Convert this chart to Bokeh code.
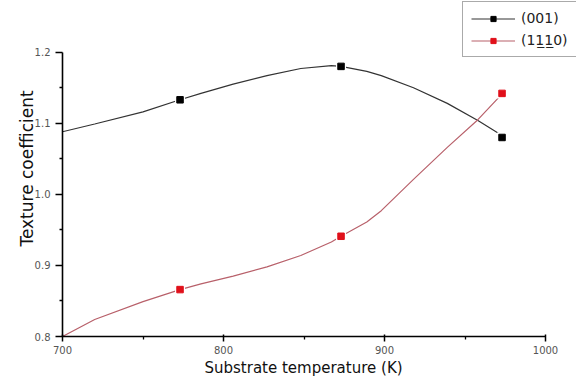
from bokeh.plotting import figure
from bokeh.models import (Range1d, FixedTicker, NumeralTickFormatter, Legend,
                          LegendItem, ColumnDataSource, Title)
from bokeh.embed import file_html
from bokeh.resources import INLINE

# Measured texture coefficients at the three substrate temperatures
temp_K = [773, 873, 973]
tc_001 = [1.133, 1.180, 1.080]
tc_1110 = [0.866, 0.941, 1.142]

# Smoothed fit curves, sampled along the temperature axis
curve_temp = [700, 720, 750, 773, 786, 806, 827, 848, 867, 873,
              889, 898, 918, 939, 958, 970, 973]
curve_001 = [1.088, 1.099, 1.116, 1.133, 1.142, 1.155, 1.167, 1.177, 1.181, 1.180,
             1.173, 1.167, 1.150, 1.128, 1.104, 1.087, 1.080]
curve_1110 = [0.800, 0.824, 0.849, 0.866, 0.874, 0.885, 0.898, 0.914, 0.933, 0.941,
              0.961, 0.977, 1.021, 1.066, 1.105, 1.134, 1.142]

x_ticks = [700, 800, 900, 1000]
x_minor = [750, 850, 950]
y_ticks = [0.8, 0.9, 1.0, 1.1, 1.2]
y_minor = [0.85, 0.95, 1.05, 1.15]

label_001 = "(001)"
label_1110 = "(1" + "1\u0332" + "1\u0332" + "0)"

FONT = "DejaVu Sans"

pts = ColumnDataSource(dict(t=temp_K, a=tc_001, b=tc_1110))
fit = ColumnDataSource(dict(t=curve_temp, a=curve_001, b=curve_1110))

# the plotting frame reaches the right and top edges so the legend box fits;
# the axes themselves stop at 1000 K and 1.2
p = figure(width=576, height=378, output_backend="svg", toolbar_location=None,
           x_range=Range1d(700, 1019.25), y_range=Range1d(0.8, 1.2727),
           min_border_left=62, min_border_bottom=42, min_border_top=0,
           min_border_right=0)
p.outline_line_color = None
p.xgrid.visible = False
p.ygrid.visible = False
p.background_fill_color = "white"
p.border_fill_color = "white"

black_line = p.line("t", "a", source=fit, line_color="#333333", line_width=1.2)
red_line = p.line("t", "b", source=fit, line_color="#b8606a", line_width=1.2)

# white squares open a small gap in the curve around each marker
halo_a = p.scatter("t", "a", source=pts, marker="square", size=10,
                   fill_color="white", line_color=None)
halo_b = p.scatter("t", "b", source=pts, marker="square", size=10,
                   fill_color="white", line_color=None)
mk_a = p.scatter("t", "a", source=pts, marker="square", size=6.5,
                 fill_color="black", line_color="black")
mk_b = p.scatter("t", "b", source=pts, marker="square", size=6.5,
                 fill_color="#e0101a", line_color="#e0101a")

xa = p.xaxis[0]
xa.bounds = (700, 1000)
xa.ticker = FixedTicker(ticks=x_ticks, minor_ticks=x_minor)
xa.major_label_text_font = FONT
xa.major_label_text_font_size = "10px"
xa.major_label_text_color = "#555555"
xa.major_label_standoff = 4
xa.axis_line_width = 1.6
xa.axis_line_color = "black"
xa.major_tick_line_width = 1.5
xa.major_tick_in = 2
xa.major_tick_out = 5
xa.minor_tick_in = 0
xa.minor_tick_out = 3
xa.minor_tick_line_width = 1.3

# x-axis title, centred under the 700-1000 K axis span
x_title = Title(text="Substrate temperature (K)", align="left", offset=142,
                text_font=FONT, text_font_size="15px", text_font_style="normal",
                text_color="#111111", standoff=0)
p.add_layout(x_title, "below")

ya = p.yaxis[0]
ya.bounds = (0.8, 1.2)
ya.ticker = FixedTicker(ticks=y_ticks, minor_ticks=y_minor)
ya.formatter = NumeralTickFormatter(format="0.0")
ya.axis_label = "Texture coefficient"
ya.axis_label_text_font = FONT
ya.axis_label_text_font_size = "17px"
ya.axis_label_text_font_style = "normal"
ya.axis_label_text_color = "#111111"
ya.axis_label_standoff = -5
ya.major_label_text_font = FONT
ya.major_label_text_font_size = "10px"
ya.major_label_text_color = "#555555"
ya.major_label_standoff = 5
ya.axis_line_width = 1.6
ya.axis_line_color = "black"
ya.major_tick_line_width = 1.5
ya.major_tick_in = 0
ya.major_tick_out = 7
ya.minor_tick_in = 0
ya.minor_tick_out = 3
ya.minor_tick_line_width = 1.3

legend = Legend(
    items=[LegendItem(label=label_001, renderers=[black_line, halo_a, mk_a]),
           LegendItem(label=label_1110, renderers=[red_line, halo_b, mk_b])],
    location=(400, 279),
    padding=8, margin=0, spacing=6,
    glyph_width=44, glyph_height=13, label_height=13, label_standoff=6,
    label_text_font=FONT, label_text_font_size="14px",
    label_text_color="#222222",
    border_line_color="#555555", border_line_width=1,
    background_fill_color="white", background_fill_alpha=1.0,
)
p.add_layout(legend, "center")

open("out.html", "w").write(file_html(p, INLINE))
